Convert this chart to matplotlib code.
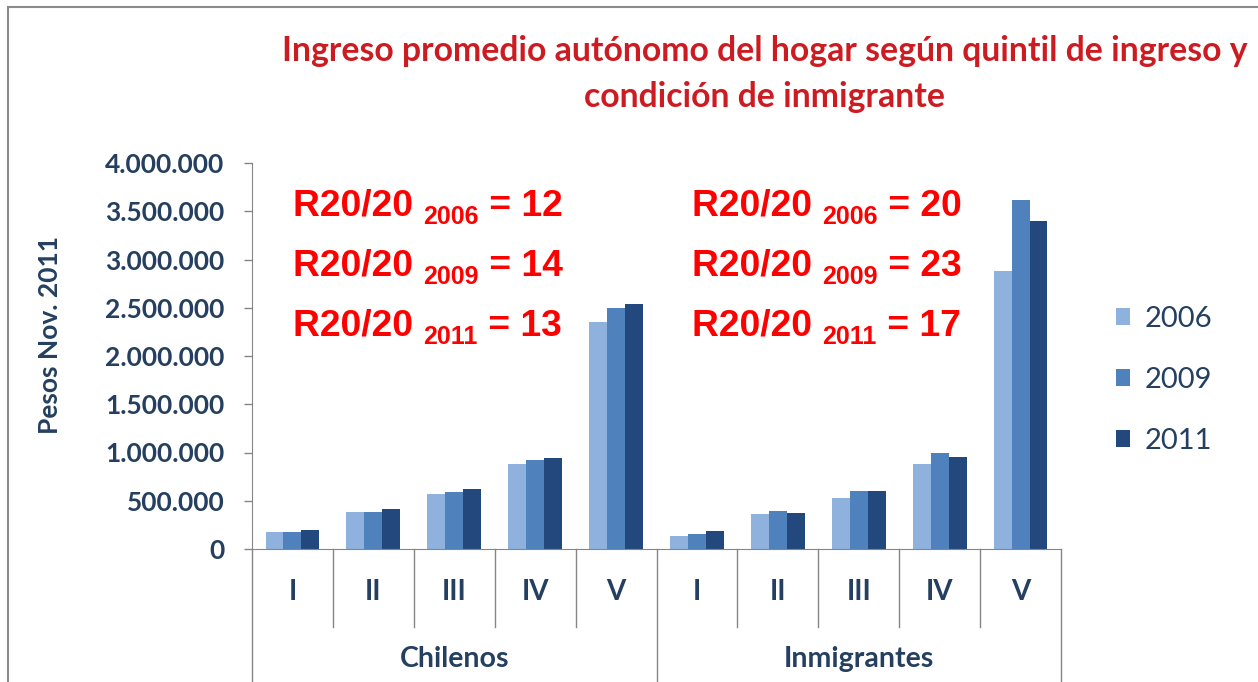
import numpy as np
import matplotlib
matplotlib.use('Agg')
import matplotlib.pyplot as plt
from matplotlib.patches import Rectangle
import matplotlib.transforms as mtransforms

# data (pesos nov. 2011)
quintiles = ['I', 'II', 'III', 'IV', 'V']
groups = ['Chilenos', 'Inmigrantes']
years = ['2006', '2009', '2011']
chilenos_2006 = [176000, 383000, 570000, 881000, 2352000]
chilenos_2009 = [176000, 383000, 590000, 922000, 2500000]
chilenos_2011 = [197000, 414000, 622000, 943000, 2539000]
inmig_2006 = [135000, 360000, 525000, 881000, 2878000]
inmig_2009 = [155000, 394000, 598000, 992000, 3620000]
inmig_2011 = [190000, 376000, 598000, 956000, 3399000]
r2020_chilenos = [12, 14, 13]
r2020_inmig = [20, 23, 17]

colors = ['#8EB1DE', '#4F81BD', '#23487E']
navy = '#243F60'
W, H = 1258, 682

fig = plt.figure(figsize=(W / 100, H / 100), dpi=100)
fig.patch.set_facecolor('white')
# gray frame of the picture
fig.add_artist(Rectangle((8 / W, -0.1), 1.2, (H - 7) / H + 0.1, transform=fig.transFigure,
                         fill=False, edgecolor='#8a8a8a', linewidth=1.5))

ax = fig.add_axes([252 / W, (H - 549) / H, 809 / W, 386 / H])

series = [chilenos_2006 + inmig_2006, chilenos_2009 + inmig_2009, chilenos_2011 + inmig_2011]
x = np.arange(len(quintiles) * len(groups))
bw = 0.222
for i, vals in enumerate(series):
    ax.bar(x + (i - 1) * bw, vals, width=bw, color=colors[i], label=years[i], zorder=2)

ax.set_xlim(-0.5, len(x) - 0.5)
ax.set_ylim(0, 4000000)
ax.set_yticks(np.arange(0, 4000001, 500000))
ax.set_yticklabels(['{:,}'.format(v).replace(',', '.') for v in range(0, 4000001, 500000)],
                   fontsize=19, fontfamily='Lato', fontweight='bold', color=navy)
ax.tick_params(axis='y', direction='out', length=6, width=1, color='#868686', pad=14)
ax.set_xticks([])
for s in ['top', 'right']:
    ax.spines[s].set_visible(False)
ax.spines['left'].set_color('#868686')
ax.spines['bottom'].set_color('#868686')
ax.patch.set_alpha(0)

# category axis: separators and labels
tr = mtransforms.blended_transform_factory(ax.transData, ax.transAxes)
for k in range(len(x) + 1):
    edge = k - 0.5
    low = -133 / 386 - 0.02 if k % 5 == 0 else -78 / 386
    ax.plot([edge, edge], [0, low], transform=tr, color='#868686', lw=1, clip_on=False)
for k, lab in enumerate(quintiles * 2):
    ax.text(k, -43 / 386, lab, transform=tr, ha='center', va='center', fontsize=20,
            fontfamily='Lato', fontweight='bold', color=navy)
for g, lab in enumerate(groups):
    ax.text(g * 5 + 2, -110 / 386, lab, transform=tr, ha='center', va='center', fontsize=20.5,
            fontfamily='Lato', fontweight='bold', color=navy)

fig.text(50 / W, 1 - 335 / H, 'Pesos Nov. 2011', rotation=90, ha='center', va='center',
         fontsize=19, fontfamily='Lato', fontweight='bold', color=navy)

fig.text(765 / W, 1 - 61 / H, 'Ingreso promedio autónomo del hogar según quintil de ingreso y',
         ha='center', va='baseline', fontsize=24.3, fontfamily='Lato', fontweight='bold', color='#CC1C22')
fig.text(765 / W, 1 - 107 / H, 'condición de inmigrante',
         ha='center', va='baseline', fontsize=24.3, fontfamily='Lato', fontweight='bold', color='#CC1C22')

leg = ax.legend(loc='center left', bbox_to_anchor=(1104 / W, 1 - 380 / H), bbox_transform=fig.transFigure,
                frameon=False, fontsize=21, handlelength=0.5, handleheight=0.5, handletextpad=0.5,
                labelspacing=1.2, borderaxespad=0)
for t in leg.get_texts():
    t.set_color(navy)
    t.set_fontfamily('Lato')

# R20/20 annotations, built piece by piece
renderer = fig.canvas.get_renderer()
red = '#FF0000'


def ratio_line(x0, ybase, year, val):
    t1 = fig.text(x0 / W, 1 - ybase / H, 'R20/20 ', fontsize=26.8, fontfamily='Liberation Sans',
                  fontweight='bold', color=red, va='baseline')
    x1 = t1.get_window_extent(renderer).x1
    t2 = fig.text(x1 / W, 1 - (ybase + 8) / H, year, fontsize=18, fontfamily='Liberation Sans',
                  fontweight='bold', color=red, va='baseline')
    x2 = t2.get_window_extent(renderer).x1
    fig.text(x2 / W, 1 - ybase / H, ' = ' + str(val), fontsize=26.8, fontfamily='Liberation Sans',
             fontweight='bold', color=red, va='baseline')


for j, yr in enumerate(years):
    ratio_line(293, 216 + 60 * j, yr, r2020_chilenos[j])
    ratio_line(692, 216 + 60 * j, yr, r2020_inmig[j])

fig.savefig('out.png', dpi=100)
